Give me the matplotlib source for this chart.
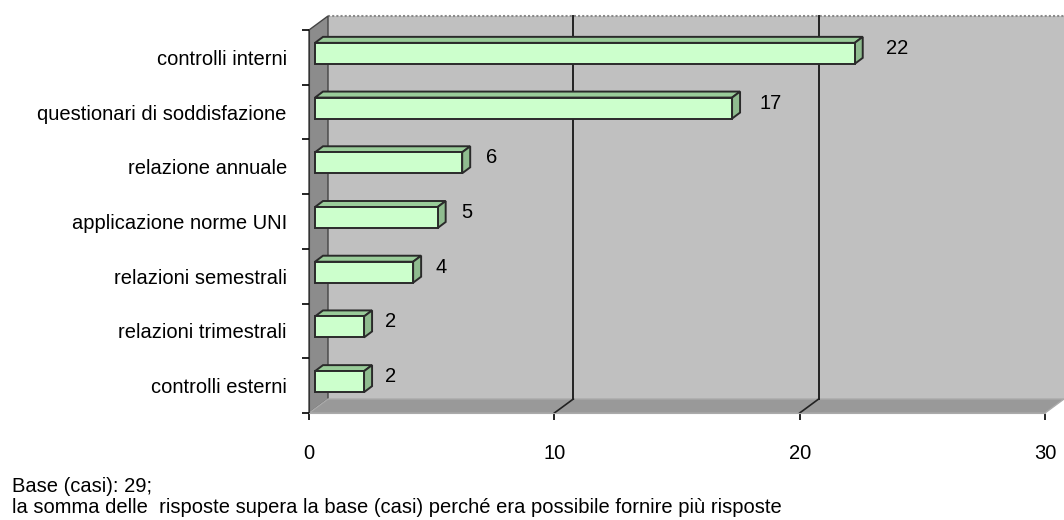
import matplotlib
matplotlib.use("Agg")
import matplotlib.pyplot as plt
from matplotlib.patches import Polygon, Rectangle

plt.rcParams["font.family"] = ["Liberation Sans", "DejaVu Sans"]

# data, top to bottom as in the chart
categories = [
    "controlli interni",
    "questionari di soddisfazione",
    "relazione annuale",
    "applicazione norme UNI",
    "relazioni semestrali",
    "relazioni trimestrali",
    "controlli esterni",
]
values = [22, 17, 6, 5, 4, 2, 2]
x_ticks = [0, 10, 20, 30]
note_lines = [
    "Base (casi): 29;",
    "la somma delle  risposte supera la base (casi) perché era possibile fornire più risposte",
]

W, H = 1064, 520
fig = plt.figure(figsize=(W / 100, H / 100), dpi=100)

# front plane of the plot in pixels
left_px, right_px, top_px, bottom_px = 309, 1045, 30, 413
ax = fig.add_axes([left_px / W, 1 - bottom_px / H,
                   (right_px - left_px) / W, (bottom_px - top_px) / H])
n = len(categories)
ax.set_xlim(0, 30)
ax.set_ylim(n - 0.5, -0.5)

XPX = 30 / (right_px - left_px)
YPX = n / (bottom_px - top_px)


def shift(x, y, dxp, dyp):
    # move a data point by pixels (right, up)
    return (x + dxp * XPX, y - dyp * YPX)


DX, DY = 19, 14          # depth of the walls
BX, BY = 8, 6            # depth of the bars
ymin, ymax = -0.5, n - 0.5
FS = 14.5

# back wall
bl = shift(0, ymax, DX, DY)
tr = shift(30, ymin, DX, DY)
ax.add_patch(Rectangle(bl, tr[0] - bl[0] + 1, tr[1] - bl[1], facecolor="#c0c0c0",
                       edgecolor="none", clip_on=False, zorder=0))
ax.plot([shift(0, ymin, DX, DY)[0], 31], [tr[1], tr[1]], ls=(0, (1, 1)),
        color="#8a8a8a", lw=1.5, clip_on=False, zorder=1)

# left wall
ax.add_patch(Polygon([(0, ymax), (0, ymin), shift(0, ymin, DX, DY), shift(0, ymax, DX, DY)],
                     closed=True, facecolor="#8c8c8c", edgecolor="#444444", lw=1,
                     clip_on=False, zorder=1))
# floor
ax.add_patch(Polygon([(0, ymax), (30, ymax), shift(30, ymax, DX, DY), shift(0, ymax, DX, DY)],
                     closed=True, facecolor="#999999", edgecolor="#aaaaaa", lw=1,
                     clip_on=False, zorder=1))

# gridlines on floor and back wall
for t in x_ticks[1:-1]:
    fb = shift(t, ymax, DX, DY)
    ax.plot([t, fb[0]], [ymax, fb[1]], color="#222222", lw=1.2, clip_on=False, zorder=2)
    ax.plot([fb[0], fb[0]], [fb[1], shift(t, ymin, DX, DY)[1]], color="#222222", lw=1.4,
            clip_on=False, zorder=2)

# bars
x0 = 6 * XPX
bar_h = 21 * YPX
centers = [i - 4 * YPX for i in range(n)]
ax.barh(centers, values, left=x0, height=bar_h, color="#ccffcc", edgecolor="#2a2a2a",
        lw=1.4, zorder=4)
for yc, v in zip(centers, values):
    top, bot = yc - bar_h / 2, yc + bar_h / 2
    xe = x0 + v
    ax.add_patch(Polygon([(x0, top), (xe, top), shift(xe, top, BX, BY), shift(x0, top, BX, BY)],
                         closed=True, facecolor="#99cc99", edgecolor="#2a2a2a", lw=1.4,
                         zorder=3, clip_on=False))
    ax.add_patch(Polygon([(xe, top), (xe, bot), shift(xe, bot, BX, BY), shift(xe, top, BX, BY)],
                         closed=True, facecolor="#8fbc8f", edgecolor="#2a2a2a", lw=1.4,
                         zorder=3, clip_on=False))
    ax.annotate(str(v), xy=(xe, yc), xytext=(25 + 0.8 * v, 5), textcoords="offset pixels",
                ha="center", va="center", fontsize=FS, zorder=5)

# axes
for s in ["top", "right"]:
    ax.spines[s].set_visible(False)
ax.spines["left"].set_color("#333333")
ax.spines["bottom"].set_color("#aaaaaa")
ax.spines["left"].set_zorder(2)
ax.set_yticks(range(n))
ax.set_yticklabels(categories, fontsize=FS)
ax.set_yticks([i - 0.5 for i in range(n + 1)], minor=True)
ax.tick_params(axis="y", which="major", length=0, pad=16)
ax.tick_params(axis="y", which="minor", length=5, width=1.2, direction="out")
ax.set_xticks(x_ticks)
ax.set_xticklabels([str(t) for t in x_ticks], fontsize=FS)
ax.tick_params(axis="x", length=5, width=1.2, direction="out", pad=17)
ax.set_facecolor("none")

fig.text(12 / W, 1 - 492 / H, note_lines[0], fontsize=FS, va="baseline")
fig.text(12 / W, 1 - 513 / H, note_lines[1], fontsize=FS, va="baseline")

fig.savefig("out.png", dpi=100)
